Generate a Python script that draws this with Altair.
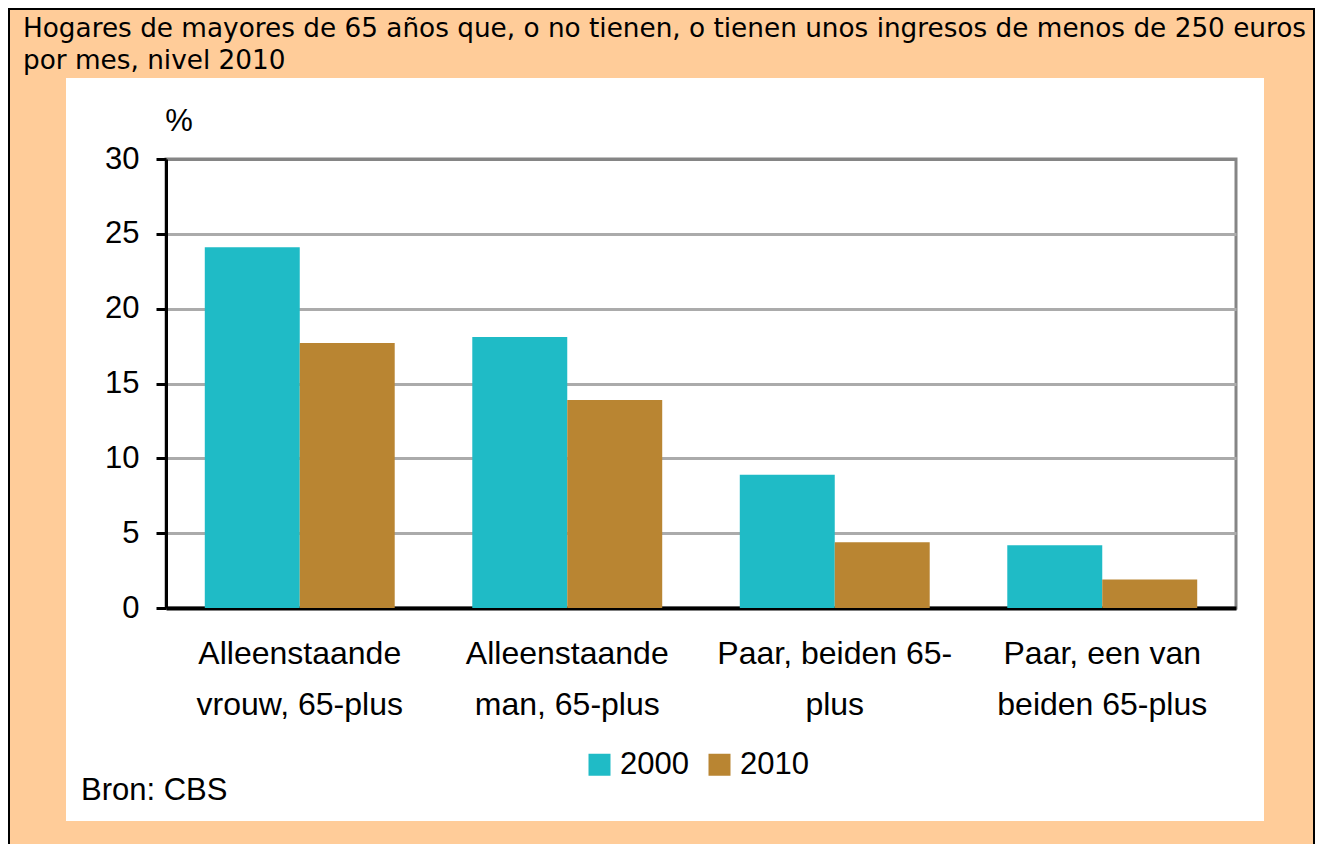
import altair as alt
import pandas as pd

categories = [
    "Alleenstaande|vrouw, 65-plus",
    "Alleenstaande|man, 65-plus",
    "Paar, beiden 65-|plus",
    "Paar, een van|beiden 65-plus",
]
years = ["2000", "2010"]
values_2000 = [24.1, 18.1, 8.9, 4.2]
values_2010 = [17.7, 13.9, 4.4, 1.9]
y_ticks = [0, 5, 10, 15, 20, 25, 30]
title_lines = [
    "Hogares de mayores de 65 años que, o no tienen, o tienen unos ingresos de menos de 250 euros",
    "por mes, nivel 2010",
]
source_text = "Bron: CBS"
unit_text = "%"

rows = []
for c, v in zip(categories, values_2000):
    rows.append({"cat": c, "year": "2000", "val": v})
for c, v in zip(categories, values_2010):
    rows.append({"cat": c, "year": "2010", "val": v})
df = pd.DataFrame(rows)
one = pd.DataFrame({"k": [0]})

FONT = "Liberation Sans, Arial, sans-serif"
TITLE_FONT = "DejaVu Sans, Liberation Sans, sans-serif"
ORANGE = "#FFCC99"

W, H = 1070, 449

bars = alt.Chart(df).mark_bar().encode(
    x=alt.X("cat:N", sort=categories,
            scale=alt.Scale(paddingInner=0.29, paddingOuter=0.145),
            axis=alt.Axis(title=None, labelAngle=0, ticks=False, grid=False,
                          domainColor="black", domainWidth=4,
                          labelExpr="split(datum.label, '|')",
                          labelFont=FONT, labelFontSize=32, labelColor="black",
                          labelLineHeight=51, labelPadding=30, labelBaseline="top",
                          labelLimit=0)),
    xOffset=alt.XOffset("year:N", sort=years),
    y=alt.Y("val:Q", scale=alt.Scale(domain=[0, 30], nice=False),
            axis=alt.Axis(title=None, values=y_ticks, grid=True,
                          gridColor={"condition": {"test": "datum.value == 30", "value": "#858585"}, "value": "#ABABAB"},
                          gridWidth=3,
                          domainColor="black", domainWidth=3,
                          tickColor="black", tickWidth=3, tickSize=10,
                          labelFont=FONT, labelFontSize=31, labelColor="black",
                          labelPadding=17)),
    color=alt.Color("year:N", sort=years,
                    scale=alt.Scale(domain=years, range=["#1FBBC6", "#B98532"]),
                    legend=alt.Legend(title=None, orient="none", legendX=418, legendY=590,
                                      direction="horizontal", symbolType="square",
                                      symbolSize=484, symbolStrokeWidth=0,
                                      labelFont=FONT, labelFontSize=31, labelColor="black",
                                      labelOffset=5, columnPadding=15, padding=0)),
)

def frame_rect(x, x2, y, y2):
    return alt.Chart(one).mark_rect(color=ORANGE).encode(
        x=alt.value(x), x2=alt.value(x2), y=alt.value(y), y2=alt.value(y2))

top_band = frame_rect(-158, 1149, -151, -81)
left_band = frame_rect(-158, -100, -81, 685)
right_band = frame_rect(1098, 1149, -81, 685)
bottom_band = frame_rect(-158, 1149, 662, 685)

border = alt.Chart(one).mark_rect(fillOpacity=0, stroke="black", strokeWidth=2).encode(
    x=alt.value(-157), x2=alt.value(1148), y=alt.value(-150), y2=alt.value(720))

title = alt.Chart(one).mark_text(align="left", baseline="alphabetic", font=TITLE_FONT,
                                 fontSize=26.3, lineHeight=32, color="black").encode(
    x=alt.value(-143), y=alt.value(-122), text=alt.value(title_lines))

unit = alt.Chart(one).mark_text(align="center", baseline="alphabetic", font=FONT,
                                fontSize=31, color="black").encode(
    x=alt.value(13), y=alt.value(-28), text=alt.value(unit_text))

source = alt.Chart(one).mark_text(align="left", baseline="alphabetic", font=FONT,
                                  fontSize=31, color="black").encode(
    x=alt.value(-85), y=alt.value(641), text=alt.value(source_text))

chart = alt.layer(
    top_band, left_band, right_band, bottom_band, bars, border, title, unit, source
).properties(
    width=W, height=H,
    padding={"left": 158, "top": 151, "right": 79, "bottom": 236},
    autosize=alt.AutoSizeParams(type="none"),
    background="white",
).configure_view(
    stroke="#858585", strokeWidth=3,
)

chart.save("out.html", embed_options={"renderer": "svg", "actions": False})
